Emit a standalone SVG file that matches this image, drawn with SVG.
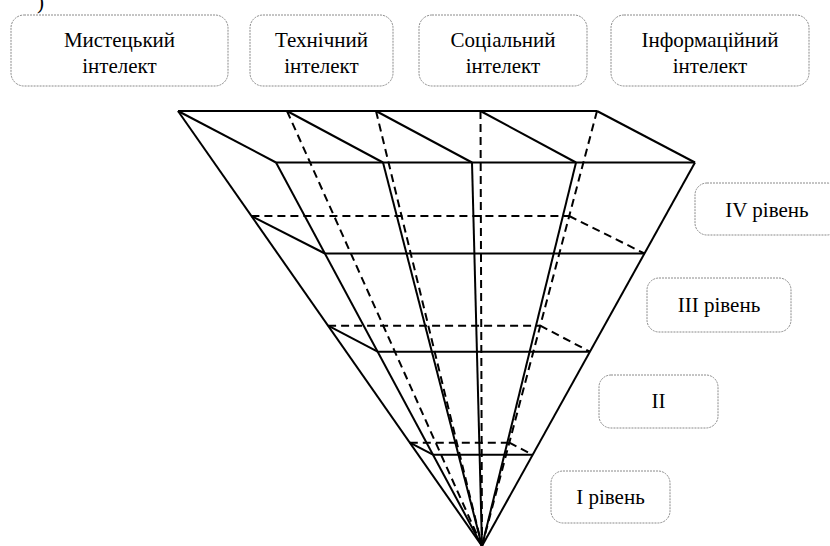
<svg xmlns="http://www.w3.org/2000/svg" width="830" height="546" viewBox="0 0 830 546">
<style>
.box{fill:#fff;stroke:#8a8a8a;stroke-width:1;stroke-dasharray:2 1}
text{font-family:'Liberation Serif','DejaVu Serif',serif;font-size:21px;fill:#000}
.t{text-anchor:middle}
.s{stroke:#000;stroke-width:2;fill:none}
.d{stroke:#000;stroke-width:2;fill:none;stroke-dasharray:8 5}
</style>
<rect width="830" height="546" fill="#fff"/>
<text x="37" y="9" font-family="Liberation Serif, serif">)</text>

<g id="node-mystetskyi">
<rect class="box" x="11" y="15" width="217" height="71" rx="13"/>
<text class="t" x="119.5" y="47" font-family="Liberation Serif, serif">Мистецький</text>
<text class="t" x="119.5" y="73" font-family="Liberation Serif, serif">інтелект</text>
</g>
<g id="node-tekhnichnyi">
<rect class="box" x="250" y="15" width="143" height="71" rx="13"/>
<text class="t" x="321.5" y="47" font-family="Liberation Serif, serif">Технічний</text>
<text class="t" x="321.5" y="73" font-family="Liberation Serif, serif">інтелект</text>
</g>
<g id="node-sotsialnyi">
<rect class="box" x="419" y="15" width="168" height="71" rx="13"/>
<text class="t" x="503" y="47" font-family="Liberation Serif, serif">Соціальний</text>
<text class="t" x="503" y="73" font-family="Liberation Serif, serif">інтелект</text>
</g>
<g id="node-informatsiinyi">
<rect class="box" x="611" y="15" width="198" height="71" rx="13"/>
<text class="t" x="710" y="47" font-family="Liberation Serif, serif">Інформаційний</text>
<text class="t" x="710" y="73" font-family="Liberation Serif, serif">інтелект</text>
</g>

<g id="connectors">
<line class="d" x1="287" y1="111" x2="482" y2="546"/>
<line class="d" x1="376" y1="111" x2="482" y2="546"/>
<line class="d" x1="480.5" y1="111" x2="482" y2="546"/>
<line class="d" x1="597" y1="111" x2="482" y2="546"/>
<line class="d" x1="251.4" y1="216" x2="569.2" y2="216"/>
<line class="d" x1="569.2" y1="216" x2="644.5" y2="253.5"/>
<line class="d" x1="328.1" y1="325.7" x2="540.2" y2="325.7"/>
<line class="d" x1="540.2" y1="325.7" x2="589.9" y2="351.7"/>
<line class="d" x1="409.8" y1="442.7" x2="509.3" y2="442.7"/>
<line class="d" x1="509.3" y1="442.7" x2="532.7" y2="454.7"/>
<line class="s" x1="178" y1="111" x2="597" y2="111"/>
<line class="s" x1="276" y1="162.5" x2="695" y2="162.5"/>
<line class="s" x1="178" y1="111" x2="276" y2="162.5"/>
<line class="s" x1="287" y1="111" x2="383" y2="162.5"/>
<line class="s" x1="376" y1="111" x2="472" y2="162.5"/>
<line class="s" x1="480.5" y1="111" x2="576" y2="162.5"/>
<line class="s" x1="597" y1="111" x2="695" y2="162.5"/>
<line class="s" x1="178" y1="111" x2="482" y2="546"/>
<line class="s" x1="276" y1="162.5" x2="482" y2="546"/>
<line class="s" x1="383" y1="162.5" x2="482" y2="546"/>
<line class="s" x1="472" y1="162.5" x2="482" y2="546"/>
<line class="s" x1="576" y1="162.5" x2="482" y2="546"/>
<line class="s" x1="695" y1="162.5" x2="482" y2="546"/>
<line class="s" x1="251.4" y1="216" x2="324.9" y2="253.5"/>
<line class="s" x1="324.9" y1="253.5" x2="644.5" y2="253.5"/>
<line class="s" x1="328.1" y1="325.7" x2="377.6" y2="351.7"/>
<line class="s" x1="377.6" y1="351.7" x2="589.9" y2="351.7"/>
<line class="s" x1="409.8" y1="442.7" x2="432.9" y2="454.7"/>
<line class="s" x1="432.9" y1="454.7" x2="532.7" y2="454.7"/>
</g>

<g id="node-level4">
<rect class="box" x="695" y="183" width="144" height="52" rx="12"/>
<text class="t" x="767" y="217" font-family="Liberation Serif, serif">IV рівень</text>
</g>
<g id="node-level3">
<rect class="box" x="647" y="278" width="144" height="54" rx="12"/>
<text class="t" x="719" y="312" font-family="Liberation Serif, serif">III рівень</text>
</g>
<g id="node-level2">
<rect class="box" x="599" y="375" width="119" height="53" rx="12"/>
<text class="t" x="658.5" y="408" font-family="Liberation Serif, serif">II</text>
</g>
<g id="node-level1">
<rect class="box" x="551" y="471" width="119" height="52" rx="12"/>
<text class="t" x="610.5" y="504" font-family="Liberation Serif, serif">I рівень</text>
</g>
</svg>
